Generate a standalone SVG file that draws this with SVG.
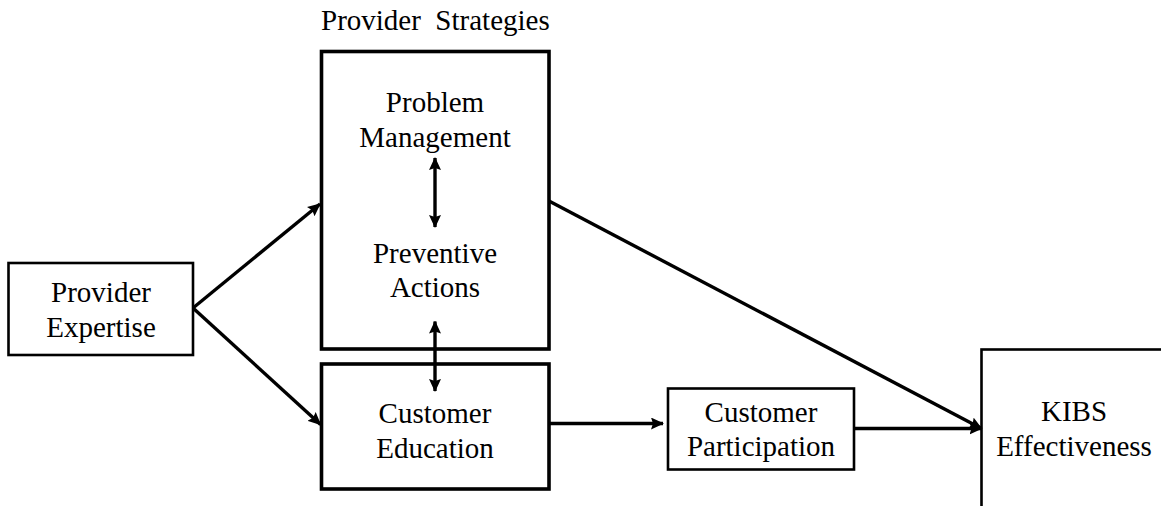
<svg xmlns="http://www.w3.org/2000/svg" width="1161" height="506" viewBox="0 0 1161 506">
  <style>
    .lbl { font-family: 'Liberation Serif', serif; font-size: 29px; fill: #000; text-anchor: middle; }
    .title { font-family: 'Liberation Serif', serif; font-size: 29px; fill: #000; white-space: pre; }
    .box { fill: #fff; stroke: #000; }
    .thick { stroke-width: 3.6; }
    .thin { stroke-width: 2.6; }
    .conn { stroke: #000; stroke-width: 3.4; fill: none; }
  </style>
  <defs>
    <marker id="arrow" viewBox="0 0 13 12" refX="12" refY="6" markerWidth="13" markerHeight="12" markerUnits="userSpaceOnUse" orient="auto-start-reverse">
      <path d="M0,0 L13,6 L0,12 L2,6 z" fill="#000"/>
    </marker>
  </defs>

  <rect width="1161" height="506" fill="#fff"/>

  <g id="provider-expertise">
    <rect class="box thin" x="8.5" y="263" width="184.5" height="92"/>
    <text class="lbl" x="101" y="302">Provider</text>
    <text class="lbl" x="101" y="337">Expertise</text>
  </g>

  <g id="provider-strategies">
    <text class="title" x="321" y="30">Provider  Strategies</text>
    <rect class="box thick" x="321.5" y="51.5" width="227.5" height="297.5"/>
    <text class="lbl" x="435" y="112">Problem</text>
    <text class="lbl" x="435" y="147">Management</text>
    <text class="lbl" x="435" y="263">Preventive</text>
    <text class="lbl" x="435" y="297">Actions</text>
  </g>

  <g id="customer-education">
    <rect class="box thick" x="321.5" y="364" width="227.5" height="125"/>
    <text class="lbl" x="435" y="423">Customer</text>
    <text class="lbl" x="435" y="458">Education</text>
  </g>

  <g id="customer-participation">
    <rect class="box thin" x="668" y="388.5" width="186" height="81"/>
    <text class="lbl" x="761" y="422">Customer</text>
    <text class="lbl" x="761" y="456">Participation</text>
  </g>

  <g id="kibs-effectiveness">
    <rect class="box thin" x="981.5" y="349.5" width="220" height="200"/>
    <text class="lbl" x="1074" y="421">KIBS</text>
    <text class="lbl" x="1074" y="456">Effectiveness</text>
  </g>

  <g id="connectors">
    <line class="conn" x1="193" y1="308" x2="320" y2="204" marker-end="url(#arrow)"/>
    <line class="conn" x1="193" y1="308" x2="320.5" y2="424.5" marker-end="url(#arrow)"/>
    <line class="conn" x1="435" y1="158" x2="435" y2="227" marker-start="url(#arrow)" marker-end="url(#arrow)"/>
    <line class="conn" x1="435" y1="321.5" x2="435" y2="391" marker-start="url(#arrow)" marker-end="url(#arrow)"/>
    <line class="conn" x1="549" y1="423.5" x2="663" y2="423.5" marker-end="url(#arrow)"/>
    <line class="conn" x1="549" y1="201" x2="981.5" y2="428.5" marker-end="url(#arrow)"/>
    <line class="conn" x1="854" y1="428.5" x2="981.5" y2="428.5" marker-end="url(#arrow)"/>
  </g>
</svg>
